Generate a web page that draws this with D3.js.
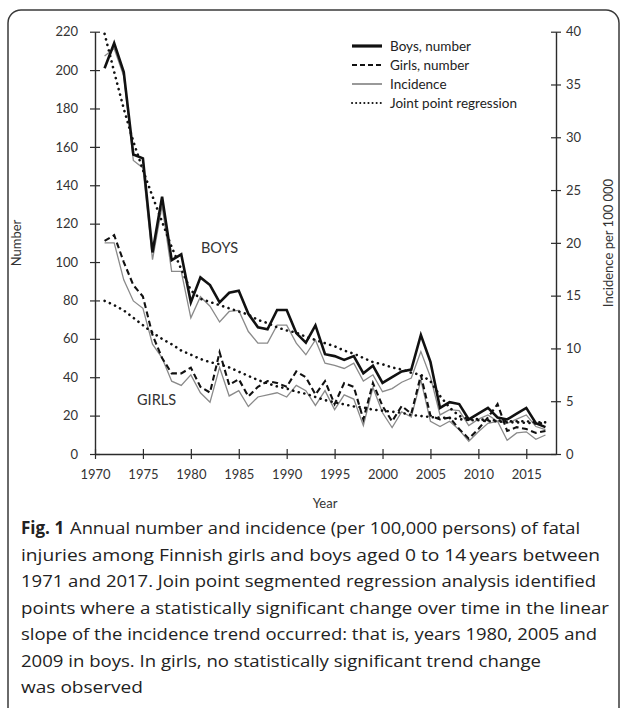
<!DOCTYPE html>
<html>
<head>
<meta charset="utf-8">
<script src="https://cdn.jsdelivr.net/npm/d3@7"></script>
<style>
  body { margin: 0; background: #fff; }
  svg { display: block; }
</style>
</head>
<body>
<div id="chart"></div>
<script>
// data
const years = [1971, 1972, 1973, 1974, 1975, 1976, 1977, 1978, 1979, 1980,
  1981, 1982, 1983, 1984, 1985, 1986, 1987, 1988, 1989, 1990,
  1991, 1992, 1993, 1994, 1995, 1996, 1997, 1998, 1999, 2000,
  2001, 2002, 2003, 2004, 2005, 2006, 2007, 2008, 2009, 2010,
  2011, 2012, 2013, 2014, 2015, 2016, 2017];

const boysNumber = [201, 214, 199, 156, 154, 105, 134, 101, 104, 79,
  92, 88, 79, 84, 85, 73, 66, 65, 75, 75,
  63, 58, 67, 52, 51, 49, 51, 42, 46, 37,
  40, 43, 44, 62, 48, 24, 27, 26, 18, 21,
  24, 19, 18, 21, 24, 16, 14];

const girlsNumber = [111, 114, 100, 88, 82, 62, 50, 42, 42, 45,
  35, 32, 53, 36, 39, 30, 35, 38, 37, 35,
  43, 40, 31, 38, 26, 37, 35, 18, 37, 25,
  17, 25, 21, 41, 20, 18, 19, 13, 8, 13,
  19, 26, 12, 14, 13, 11, 12];

// incidence per 100 000 (right axis)
const boysIncidence = [37.7, 38.4, 35.8, 27.8, 27.1, 18.4, 23.5, 17.3, 17.3, 12.9,
  14.9, 14.0, 12.5, 13.5, 13.6, 11.6, 10.5, 10.5, 12.2, 12.2,
  10.5, 9.4, 10.8, 8.6, 8.4, 8.1, 8.6, 6.9, 7.5, 5.9,
  6.2, 6.8, 7.2, 9.7, 7.3, 3.7, 4.2, 4.1, 2.7, 3.3,
  3.7, 3.1, 2.9, 3.3, 3.7, 2.6, 2.3];

const girlsIncidence = [20.0, 20.0, 16.5, 14.5, 13.8, 10.4, 9.1, 6.9, 6.5, 7.5,
  5.8, 4.9, 8.2, 5.5, 6.0, 4.5, 5.4, 5.6, 5.8, 5.4,
  6.5, 6.0, 4.6, 6.0, 4.2, 5.6, 5.2, 2.7, 6.3, 3.9,
  2.5, 4.0, 3.5, 7.0, 3.1, 2.6, 3.1, 2.3, 1.2, 2.1,
  2.9, 3.1, 1.3, 2.0, 2.1, 1.4, 1.8];

// joint point regression of incidence
const boysJoinpoint = [39.8, 36.2, 32.7, 29.6, 26.9, 24.4, 22.0, 19.6, 17.5, 15.5,
  14.7, 14.4, 14.1, 13.8, 13.5, 13.2, 12.7, 12.4, 12.0, 11.7,
  11.5, 11.1, 10.8, 10.5, 10.2, 9.8, 9.5, 9.1, 8.7, 8.5,
  8.2, 8.0, 7.7, 7.5, 6.9, 5.5, 4.4, 3.6, 3.3, 3.3,
  3.2, 3.2, 3.1, 3.1, 3.1, 3.0, 3.0];

const girlsJoinpoint = [14.5, 14.1, 13.6, 12.9, 12.2, 11.5, 10.9, 10.4, 9.8, 9.4,
  9.0, 8.7, 8.5, 8.2, 7.8, 7.4, 7.0, 6.7, 6.4, 6.2,
  5.9, 5.7, 5.4, 5.1, 4.9, 4.7, 4.5, 4.4, 4.2, 4.1,
  4.0, 3.9, 3.7, 3.6, 3.5, 3.45, 3.4, 3.3, 3.2, 3.2,
  3.1, 3.1, 3.0, 3.0, 2.95, 2.9, 2.9];

const yearTicks = [1970, 1975, 1980, 1985, 1990, 1995, 2000, 2005, 2010, 2015];
const numberTicks = [0, 20, 40, 60, 80, 100, 120, 140, 160, 180, 200, 220];
const incidenceTicks = [0, 5, 10, 15, 20, 25, 30, 35, 40];

const legendLabels = ['Boys, number', 'Girls, number', 'Incidence', 'Joint point regression'];

const captionLines = [
  'Annual number and incidence (per 100,000 persons) of fatal',
  'injuries among Finnish girls and boys aged 0 to 14\u2009years between',
  '1971 and 2017. Join point segmented regression analysis identified',
  'points where a statistically significant change over time in the linear',
  'slope of the incidence trend occurred: that is, years 1980, 2005 and',
  '2009 in boys. In girls, no statistically significant trend change',
  'was observed'
];
const captionWidths = [510, 579, 575, 588, 576, 520, 122];

const width = 627;
const height = 708;
const font = 'Lato, "Open Sans", sans-serif';
const ink = '#2b2b2b';

const svg = d3.select('#chart')
  .append('svg')
  .attr('width', width)
  .attr('height', height);

// frame
svg.append('rect')
  .attr('x', 8).attr('y', 10)
  .attr('width', 611).attr('height', 730)
  .attr('rx', 13)
  .style('fill', 'none')
  .style('stroke', '#3a3a3a')
  .style('stroke-width', 1.5);

const x = d3.scaleLinear().domain([1970, 2018.1]).range([95, 556]);
const yNum = d3.scaleLinear().domain([0, 220]).range([454, 31.7]);
const yInc = d3.scaleLinear().domain([0, 40]).range([454, 31.7]);

// axes
const styleAxis = (g) => {
  g.select('.domain').style('stroke', ink).style('stroke-width', 1.4);
  g.selectAll('.tick line').style('stroke', ink).style('stroke-width', 1.2);
  g.selectAll('.tick text')
    .style('font-family', font)
    .style('font-size', '13px')
    .style('fill', '#333');
};

const leftAxis = svg.append('g')
  .attr('transform', 'translate(95,0)')
  .call(d3.axisLeft(yNum).tickValues(numberTicks).tickSize(5).tickSizeOuter(0).tickPadding(12));
leftAxis.selectAll('.tick line').attr('x1', 5);
styleAxis(leftAxis);

const rightAxis = svg.append('g')
  .attr('transform', 'translate(556,0)')
  .call(d3.axisRight(yInc).tickValues(incidenceTicks).tickSize(5).tickSizeOuter(0).tickPadding(5));
rightAxis.selectAll('.tick line').attr('x1', -5);
styleAxis(rightAxis);

const bottomAxis = svg.append('g')
  .attr('transform', 'translate(0,454)')
  .call(d3.axisBottom(x).tickValues(yearTicks).tickFormat(d3.format('d')).tickSize(5).tickSizeOuter(0).tickPadding(11));
bottomAxis.selectAll('.tick line').attr('y1', -5);
styleAxis(bottomAxis);

// axis titles
svg.append('text')
  .attr('x', 325).attr('y', 508)
  .attr('text-anchor', 'middle')
  .style('font-family', font).style('font-size', '13px').style('fill', '#333')
  .text('Year');

svg.append('text')
  .attr('transform', 'translate(21,243) rotate(-90)')
  .attr('text-anchor', 'middle')
  .style('font-family', font).style('font-size', '13px').style('fill', '#333')
  .text('Number');

svg.append('text')
  .attr('transform', 'translate(613,243) rotate(-90)')
  .attr('text-anchor', 'middle')
  .style('font-family', font).style('font-size', '13px').style('fill', '#333')
  .text('Incidence per 100 000');

// series
const rows = years.map((yr, i) => ({
  year: yr,
  boys: boysNumber[i],
  girls: girlsNumber[i],
  boysInc: boysIncidence[i],
  girlsInc: girlsIncidence[i],
  boysJp: boysJoinpoint[i],
  girlsJp: girlsJoinpoint[i]
}));

const series = [
  { key: 'boysInc', scale: yInc, stroke: '#8a8a8a', width: 1.3, dash: null },
  { key: 'girlsInc', scale: yInc, stroke: '#8a8a8a', width: 1.3, dash: null },
  { key: 'boysJp', scale: yInc, stroke: '#111', width: 2.6, dash: '0.1,5.6', cap: 'round' },
  { key: 'girlsJp', scale: yInc, stroke: '#111', width: 2.6, dash: '0.1,5.6', cap: 'round' },
  { key: 'girls', scale: yNum, stroke: '#111', width: 2.1, dash: '6,3.5' },
  { key: 'boys', scale: yNum, stroke: '#111', width: 2.6, dash: null }
];

series.forEach((s) => {
  const line = d3.line()
    .x((d) => x(d.year))
    .y((d) => s.scale(d[s.key]));
  svg.append('path')
    .datum(rows)
    .attr('d', line)
    .style('fill', 'none')
    .style('stroke', s.stroke)
    .style('stroke-width', s.width)
    .style('stroke-dasharray', s.dash)
    .style('stroke-linecap', s.cap || 'butt')
    .style('stroke-linejoin', 'miter');
});

// in-plot labels
svg.append('text')
  .attr('x', 201).attr('y', 253)
  .style('font-family', font).style('font-size', '14.5px').style('fill', '#333')
  .text('BOYS');

svg.append('text')
  .attr('x', 137).attr('y', 405)
  .style('font-family', font).style('font-size', '14.5px').style('fill', '#333')
  .text('GIRLS');

// legend
const legendStyles = [
  { stroke: '#111', width: 3.2, dash: null, cap: 'butt' },
  { stroke: '#111', width: 2.1, dash: '5,3', cap: 'butt' },
  { stroke: '#555', width: 1.2, dash: null, cap: 'butt' },
  { stroke: '#111', width: 2, dash: '0.1,4', cap: 'round' }
];

const legend = svg.append('g').attr('transform', 'translate(352,46)');
legendLabels.forEach((label, i) => {
  const row = legend.append('g').attr('transform', `translate(0,${i * 19})`);
  row.append('line')
    .attr('x1', 0).attr('x2', 30)
    .style('stroke', legendStyles[i].stroke)
    .style('stroke-width', legendStyles[i].width)
    .style('stroke-dasharray', legendStyles[i].dash)
    .style('stroke-linecap', legendStyles[i].cap);
  row.append('text')
    .attr('x', 38).attr('dy', '0.35em')
    .style('font-family', font).style('font-size', '13.5px').style('fill', '#222')
    .text(label);
});

// caption
const caption = svg.append('g')
  .style('font-family', '"Open Sans", sans-serif')
  .style('font-size', '17px')
  .style('fill', '#222');

captionLines.forEach((line, i) => {
  const t = caption.append('text')
    .attr('x', 21)
    .attr('y', 534 + i * 26.5);
  if (i === 0) {
    t.append('tspan').style('font-weight', 'bold').text('Fig. 1');
    t.append('tspan').attr('dx', 6).text(line)
      .attr('textLength', captionWidths[i])
      .attr('lengthAdjust', 'spacingAndGlyphs');
  } else {
    t.text(line)
      .attr('textLength', captionWidths[i])
      .attr('lengthAdjust', 'spacingAndGlyphs');
  }
});
</script>
</body>
</html>
